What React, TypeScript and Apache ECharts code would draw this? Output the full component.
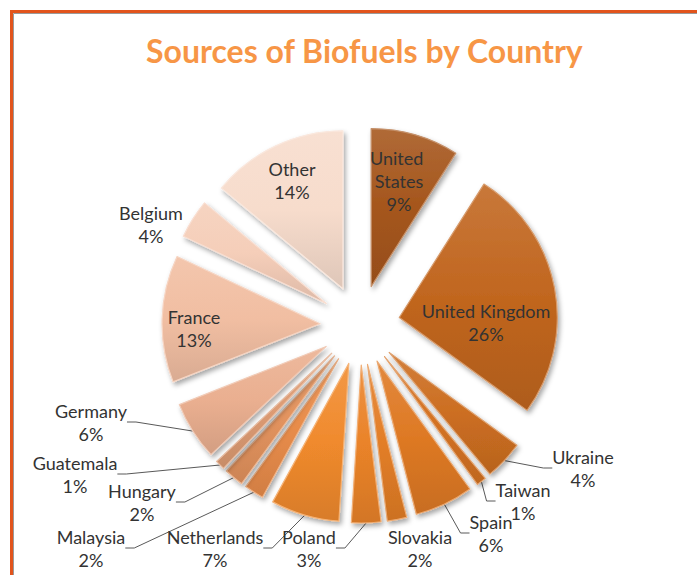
import { useEffect, useRef } from "react";
import * as echarts from "echarts";

// Shares of biofuel sources, clockwise from 12 o'clock
const countries = [
  "United States",
  "United Kingdom",
  "Ukraine",
  "Taiwan",
  "Spain",
  "Slovakia",
  "Poland",
  "Netherlands",
  "Malaysia",
  "Hungary",
  "Guatemala",
  "Germany",
  "France",
  "Belgium",
  "Other",
];
const shares = [9, 26, 4, 1, 6, 2, 3, 7, 2, 2, 1, 6, 13, 4, 14];

const sliceColors = [
  "#A5561C",
  "#C1661F",
  "#CC6E21",
  "#D47222",
  "#DE7924",
  "#E37E27",
  "#EA8329",
  "#F08A2D",
  "#E88C4A",
  "#E3935E",
  "#DD9B73",
  "#EAAF90",
  "#F1BEA2",
  "#F5CEB9",
  "#F7DCCC",
];

const insideLabels = ["United States", "United Kingdom", "France", "Other"];
const unlinedLabels = ["Belgium", "Slovakia"];

// Where each label block is centred, in page pixels
const labelSpots: Record<string, [number, number]> = {
  "United States": [399, 181],
  "United Kingdom": [486, 322],
  Other: [292, 180],
  France: [194, 328],
  Belgium: [151, 224],
  Germany: [91, 422],
  Guatemala: [75, 474],
  Hungary: [142, 502],
  Malaysia: [91, 548],
  Netherlands: [215, 548],
  Poland: [309, 548],
  Slovakia: [420, 548],
  Spain: [491, 533],
  Taiwan: [523, 501],
  Ukraine: [583, 468],
};

const PIE_CENTER = [360, 325];
const PIE_RADIUS = 158;
const EXPLODE = 40;

function shade(hex: string, amt: number): string {
  const n = parseInt(hex.slice(1), 16);
  const ch = [(n >> 16) & 255, (n >> 8) & 255, n & 255].map((c) => {
    const v = amt >= 0 ? c + (255 - c) * amt : c * (1 + amt);
    return Math.max(0, Math.min(255, Math.round(v)));
  });
  return "#" + ch.map((c) => c.toString(16).padStart(2, "0")).join("");
}

export default function App() {
  const ref = useRef<HTMLDivElement>(null);

  useEffect(() => {
    if (!ref.current) return;
    const chart = echarts.init(ref.current, undefined, { renderer: "svg" });

    // Exploded slices
    const sliceData = countries.map((name, i) => {
      const base = sliceColors[i];
      return {
        name,
        value: shares[i],
        selected: true,
        itemStyle: {
          color: new echarts.graphic.LinearGradient(0, 0, 0, 1, [
            { offset: 0, color: shade(base, 0.12) },
            { offset: 0.5, color: base },
            { offset: 1, color: shade(base, -0.1) },
          ]),
          borderColor: shade(base, 0.35),
          borderWidth: 1.2,
        },
      };
    });

    // Transparent ring whose outer edge meets the exploded slices' outer edge;
    // it carries the data labels and leader lines.
    const labelData = countries.map((name, i) => {
      const inside = insideLabels.includes(name);
      return {
        name,
        value: shares[i],
        label: {
          width: name === "United States" ? 60 : undefined,
          overflow: name === "United States" ? "break" : "none",
        },
        labelLine: {
          show: !inside && !unlinedLabels.includes(name),
        },
      };
    });

    chart.setOption({
      animation: false,
      backgroundColor: "#ffffff",
      title: {
        text: "Sources of Biofuels by Country",
        left: 141,
        top: 29,
        textStyle: {
          fontFamily: "Lato",
          fontSize: 32,
          fontWeight: "bold",
          color: "#F79646",
        },
      },
      graphic: [
        {
          type: "rect",
          shape: { x: 11.5, y: 11.5, width: 800, height: 700 },
          style: { fill: "none", stroke: "#E2541C", lineWidth: 3 },
          silent: true,
        },
        {
          type: "rect",
          shape: { x: 13.5, y: 13.5, width: 800, height: 700 },
          style: { fill: "none", stroke: "#9A9A9A", lineWidth: 1 },
          silent: true,
        },
      ],
      series: [
        {
          type: "pie",
          center: PIE_CENTER,
          radius: PIE_RADIUS,
          startAngle: 90,
          clockwise: true,
          selectedMode: "multiple",
          selectedOffset: EXPLODE,
          avoidLabelOverlap: false,
          itemStyle: {
            shadowBlur: 5,
            shadowOffsetX: 2,
            shadowOffsetY: 3,
            shadowColor: "rgba(0,0,0,0.35)",
          },
          label: { show: false },
          labelLine: { show: false },
          emphasis: { disabled: true },
          data: sliceData,
        },
        {
          type: "pie",
          center: PIE_CENTER,
          radius: PIE_RADIUS + EXPLODE,
          startAngle: 90,
          clockwise: true,
          silent: true,
          avoidLabelOverlap: false,
          itemStyle: { color: "rgba(0,0,0,0)", borderWidth: 0 },
          label: {
            position: "outside",
            formatter: "{b}\n{c}%",
            fontFamily: "Lato",
            fontSize: 18,
            lineHeight: 23,
            color: "#333333",
            align: "center",
          },
          labelLine: {
            show: true,
            length: 10,
            length2: 9,
            lineStyle: { color: "#595959", width: 1 },
          },
          labelLayout: (params: any) => {
            const spot = labelSpots[countries[params.dataIndex]];
            return {
              x: spot[0],
              y: spot[1],
              align: "center",
              verticalAlign: "middle",
            };
          },
          emphasis: { disabled: true },
          data: labelData,
        },
      ],
    });

    return () => chart.dispose();
  }, []);

  return (
    <div
      ref={ref}
      style={{ position: "absolute", left: 0, top: 0, width: 697, height: 575 }}
    />
  );
}
